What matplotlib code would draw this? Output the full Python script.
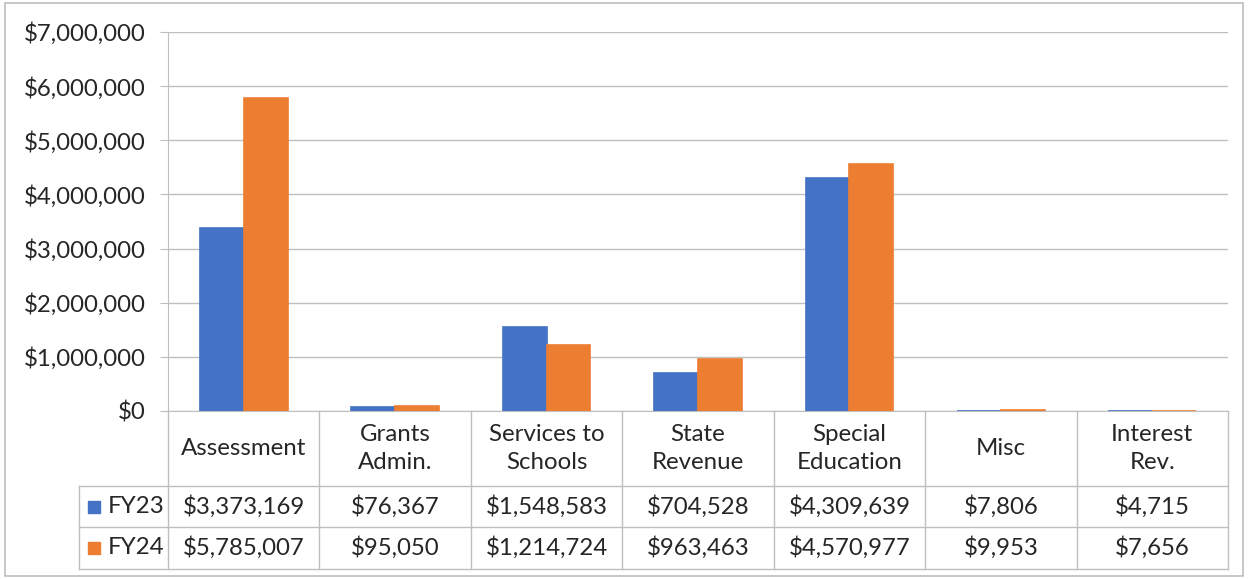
import matplotlib.pyplot as plt
import matplotlib.transforms as mtransforms
from matplotlib.patches import Rectangle
from matplotlib.ticker import FuncFormatter
import numpy as np

categories = ["Assessment", "Grants\nAdmin.", "Services to\nSchools", "State\nRevenue",
              "Special\nEducation", "Misc", "Interest\nRev."]
fy23 = [3373169, 76367, 1548583, 704528, 4309639, 7806, 4715]
fy24 = [5785007, 95050, 1214724, 963463, 4570977, 9953, 7656]
series_names = ["FY23", "FY24"]
colors = ["#4472C4", "#ED7D31"]

plt.rcParams['font.family'] = ['Lato', 'DejaVu Sans']
FS = 17.3
TXT = "#262626"
GRID = "#BFBFBF"

W, H = 1249, 579
fig = plt.figure(figsize=(W / 100, H / 100), dpi=100)

# outer chart border
fig.patches.append(Rectangle((5 / W, 1 - 576 / H), (1243 - 5) / W, (576 - 3) / H,
                             transform=fig.transFigure, fill=False, ec=GRID, lw=1.2))

ax = fig.add_axes([168 / W, 1 - 411 / H, (1228 - 168) / W, (411 - 32) / H])

x = np.arange(len(categories))
w = 0.29
ax.bar(x - w / 2, fy23, w, color=colors[0], ec=colors[0], lw=1.2, zorder=4)
ax.bar(x + w / 2, fy24, w, color=colors[1], ec=colors[1], lw=1.2, zorder=4)

ax.set_xlim(-0.5, len(categories) - 0.5)
ax.set_ylim(0, 7000000)
ax.set_yticks(np.arange(0, 7000001, 1000000))
ax.yaxis.set_major_formatter(FuncFormatter(lambda v, p: f"${v:,.0f}"))
ax.grid(axis='y', color=GRID, lw=1, zorder=0)
ax.set_xticks([])
ax.tick_params(axis='y', length=5.8, color=GRID, pad=10, labelsize=FS, labelcolor=TXT)
for s in ['top', 'right']:
    ax.spines[s].set_visible(False)
for s in ['left', 'bottom']:
    ax.spines[s].set_color(GRID)

# data table below the axis
trans = mtransforms.blended_transform_factory(ax.transData, ax.transAxes)
axh = 411 - 32
catw = (1228 - 168) / len(categories)
y_hdr = -(486 - 411) / axh
y_r1 = -(527 - 411) / axh
y_r2 = -(569 - 411) / axh
x_leg = -0.5 - (168 - 79) / catw
x_end = len(categories) - 0.5

line_kw = dict(color=GRID, lw=1, transform=trans, clip_on=False)
for yy in [y_hdr, y_r1, y_r2]:
    ax.plot([x_leg, x_end], [yy, yy], **line_kw)
for i in range(len(categories) + 1):
    ax.plot([i - 0.5, i - 0.5], [0, y_r2], **line_kw)
ax.plot([x_leg, x_leg], [y_hdr, y_r2], **line_kw)

for i, cat in enumerate(categories):
    ax.text(i, y_hdr / 2, cat, transform=trans, ha='center', va='center',
            fontsize=FS, color=TXT, linespacing=1.4)
rows = [fy23, fy24]
row_mid = [(y_hdr + y_r1) / 2, (y_r1 + y_r2) / 2]
for r, vals in enumerate(rows):
    for i, v in enumerate(vals):
        ax.text(i, row_mid[r], f"${v:,}", transform=trans, ha='center', va='center',
                fontsize=FS, color=TXT)
    # legend key + series name
    ym = row_mid[r]
    ax.text(x_leg + (108 - 79) / catw, ym, series_names[r], transform=trans,
            ha='left', va='center', fontsize=FS, color=TXT)
    ax.add_patch(Rectangle((x_leg + (88 - 79) / catw, ym - 6 / axh), 12 / catw, 12 / axh,
                           transform=trans, color=colors[r], clip_on=False))

fig.savefig("out.png", dpi=100)
